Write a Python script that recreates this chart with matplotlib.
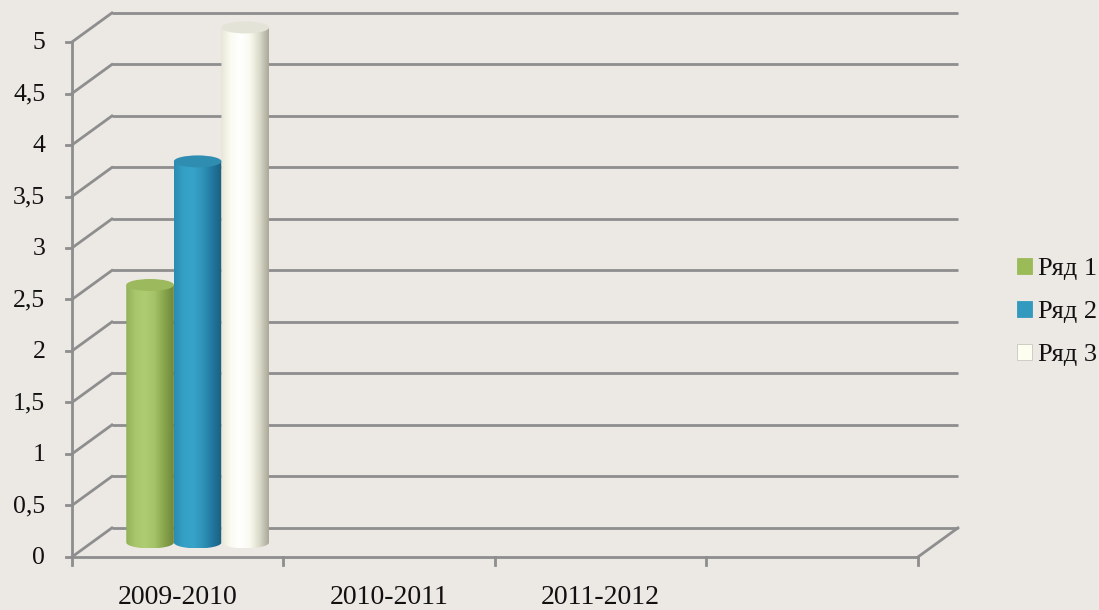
import numpy as np
import matplotlib
matplotlib.use('Agg')
import matplotlib.pyplot as plt
from matplotlib.patches import Ellipse, Patch, PathPatch
from matplotlib.path import Path
from matplotlib.colors import LinearSegmentedColormap

# ---- data ----
categories = ['2009-2010', '2010-2011', '2011-2012', '']
series_names = ['Ряд 1', 'Ряд 2', 'Ряд 3']
values_r1 = [2.5, None, None, None]
values_r2 = [3.7, None, None, None]
values_r3 = [5.0, None, None, None]
y_ticks = [0, 0.5, 1, 1.5, 2, 2.5, 3, 3.5, 4, 4.5, 5]
y_tick_labels = ['0', '0,5', '1', '1,5', '2', '2,5', '3', '3,5', '4', '4,5', '5']

# ---- style ----
BG = '#ece8e4'
GRID = '#8e8e8e'
FONT = 'Liberation Serif'
FS_Y = 18.5
FS_X = 20
FS_LEG = 19
series_legend_colors = ['#9bbb59', '#3399bf', '#fdfdf0']
series_gradients = [
    ['#92b058', '#a9c86d', '#aecd73', '#a4c268', '#88a44d', '#6e883b'],
    ['#2b8cb0', '#35a0c6', '#38a3c9', '#2f93b8', '#2277a0', '#1a5f7e'],
    ['#e6e5d6', '#fbfbf2', '#ffffff', '#fafaf0', '#dcdccc', '#a8a798'],
]
top_colors = ['#9cb95e', '#2f8db1', '#e3e3d7']

fig = plt.figure(figsize=(10.99, 6.10), dpi=100)
fig.patch.set_facecolor(BG)
ax = fig.add_axes([0, 0, 1, 1])
ax.set_facecolor(BG)
ax.axis('off')

ncat = len(categories)
DX, DY = 0.189, 0.282   # depth offset (category units, value units)
lw = 2.0

# back wall + side wall gridlines
for v in y_ticks:
    ax.plot([DX, ncat + DX], [v + DY, v + DY], color=GRID, lw=lw, zorder=1, solid_capstyle='butt')
    ax.plot([0, DX], [v, v + DY], color=GRID, lw=lw, zorder=1)
# floor
ax.plot([0, ncat], [0, 0], color=GRID, lw=lw, zorder=1)
ax.plot([ncat, ncat + DX], [0, DY], color=GRID, lw=lw, zorder=1)
# vertical axis
ax.plot([0, 0], [0, y_ticks[-1]], color=GRID, lw=lw, zorder=1)
for v, lab in zip(y_ticks, y_tick_labels):
    ax.plot([-0.028, 0], [v, v], color=GRID, lw=lw, zorder=1)
    ax.text(-0.126, v - 0.01, lab, ha='right', va='center', fontsize=FS_Y, family=FONT, color='#111111')
# category ticks and labels
for i in range(ncat + 1):
    ax.plot([i, i], [0, -0.078], color=GRID, lw=lw, zorder=1)
for i, c in enumerate(categories):
    ax.text(i + 0.5, -0.395, c, ha='center', va='center', fontsize=FS_X, family=FONT, color='#111111')

# cylinders
w = 0.225
eh = 0.058
all_values = [values_r1, values_r2, values_r3]
grad = np.linspace(0, 1, 256).reshape(1, -1)
for j, vals in enumerate(all_values):
    cmap = LinearSegmentedColormap.from_list('c%d' % j, series_gradients[j])
    for i, v in enumerate(vals):
        if v is None:
            continue
        cx = i + 0.5 + (j - 1) * w + DX / 2
        base = DY / 2
        top = v + DY / 2
        x0, x1 = cx - w / 2, cx + w / 2
        th = np.linspace(np.pi, 2 * np.pi, 60)
        arc = np.column_stack([cx + (w / 2) * np.cos(th), base + eh * np.sin(th)])
        verts = np.vstack([[[x0, top]], arc, [[x1, top]], [[x0, top]]])
        codes = [Path.MOVETO] + [Path.LINETO] * (len(verts) - 2) + [Path.CLOSEPOLY]
        body = PathPatch(Path(verts, codes), facecolor='none', edgecolor='none', zorder=3)
        ax.add_patch(body)
        im = ax.imshow(grad, cmap=cmap, aspect='auto', extent=[x0, x1, base - eh, top],
                       zorder=3, interpolation='bilinear')
        im.set_clip_path(body)
        ax.add_patch(Ellipse((cx, top), w, 2 * eh, facecolor=top_colors[j],
                             edgecolor='none', zorder=4))

ax.set_xlim(-0.340, 4.856)
ax.set_ylim(-0.515, 5.408)

handles = [Patch(facecolor=c, edgecolor='#c8c8c0' if k == 2 else c, lw=0.6)
           for k, c in enumerate(series_legend_colors)]
fig.legend(handles, series_names, loc='center left', bbox_to_anchor=(0.9254, 0.4885),
           frameon=False, prop={'family': FONT, 'size': FS_LEG},
           borderaxespad=0, borderpad=0,
           handlelength=0.57, handleheight=0.57, handletextpad=0.23, labelspacing=0.77,
           labelcolor='#111111')

fig.savefig('out.png', dpi=100, facecolor=BG)
